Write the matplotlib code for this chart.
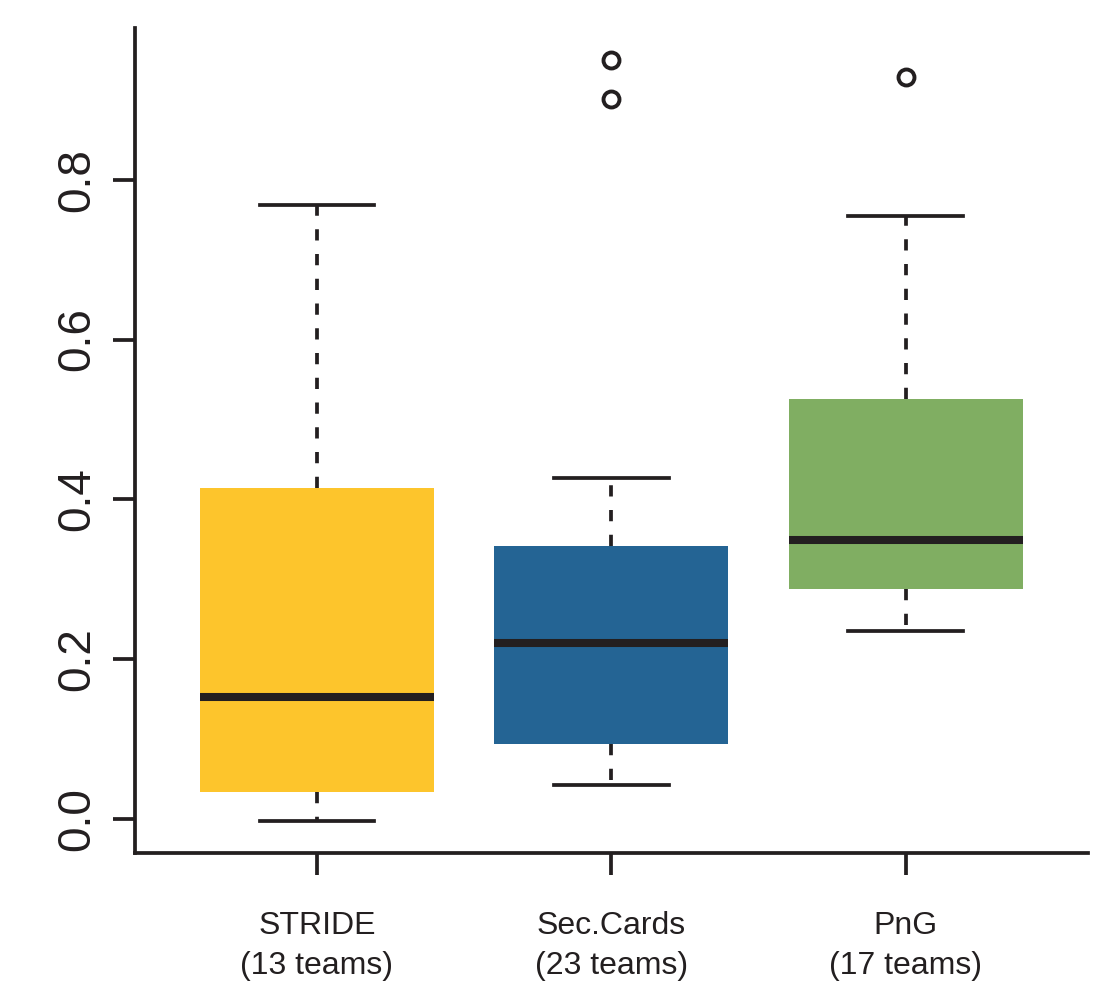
import matplotlib
matplotlib.use('Agg')
import matplotlib.pyplot as plt

# box statistics
groups = ['STRIDE', 'Sec.Cards', 'PnG']
team_counts = [13, 23, 17]
whisker_low = [-0.003, 0.043, 0.235]
q1 = [0.034, 0.094, 0.288]
medians = [0.153, 0.220, 0.349]
q3 = [0.414, 0.342, 0.526]
whisker_high = [0.768, 0.427, 0.755]
outliers = [[], [0.901, 0.950], [0.928]]
colors = ['#FDC52C', '#246494', '#80AE62']

plt.rcParams['font.family'] = ['Liberation Sans', 'DejaVu Sans']

stats = []
for i in range(len(groups)):
    stats.append({'whislo': whisker_low[i], 'q1': q1[i], 'med': medians[i],
                  'q3': q3[i], 'whishi': whisker_high[i], 'fliers': outliers[i]})

fig = plt.figure(figsize=(11.1, 9.81), dpi=100)
ax = fig.add_axes([0.1216, 0.1305, 0.8584, 0.841])

positions = [1, 2, 3]
ink = '#231f20'
bp = ax.bxp(stats, positions=positions, widths=0.795, capwidths=0.39,
            patch_artist=True, showfliers=True,
            boxprops=dict(linewidth=0),
            medianprops=dict(color=ink, linewidth=5.8, solid_capstyle='butt'),
            whiskerprops=dict(color=ink, linewidth=2.7, linestyle=(0, (3, 3.6))),
            capprops=dict(color=ink, linewidth=2.7),
            flierprops=dict(marker='o', markersize=11.5, markerfacecolor='none',
                            markeredgecolor=ink, markeredgewidth=2.8))
for patch, c in zip(bp['boxes'], colors):
    patch.set_facecolor(c)
    patch.set_edgecolor(c)

ax.set_xlim(0.382, 3.618)
ax.set_ylim(-0.0426, 0.990)

ax.spines['top'].set_visible(False)
ax.spines['right'].set_visible(False)
for s in ['left', 'bottom']:
    ax.spines[s].set_linewidth(2.7)
    ax.spines[s].set_color(ink)

ax.set_yticks([0.0, 0.2, 0.4, 0.6, 0.8])
ax.set_yticklabels(['0.0', '0.2', '0.4', '0.6', '0.8'], rotation=90, va='center',
                   fontsize=33, color=ink)
ax.set_xticks(positions)
ax.set_xticklabels([f'{g}\n({n} teams)' for g, n in zip(groups, team_counts)],
                   fontsize=23, color=ink, linespacing=1.4)
ax.tick_params(axis='both', direction='out', length=16, width=2.7, color=ink)
ax.tick_params(axis='x', pad=26)
ax.tick_params(axis='y', pad=10)

fig.savefig('out.png', dpi=100)
